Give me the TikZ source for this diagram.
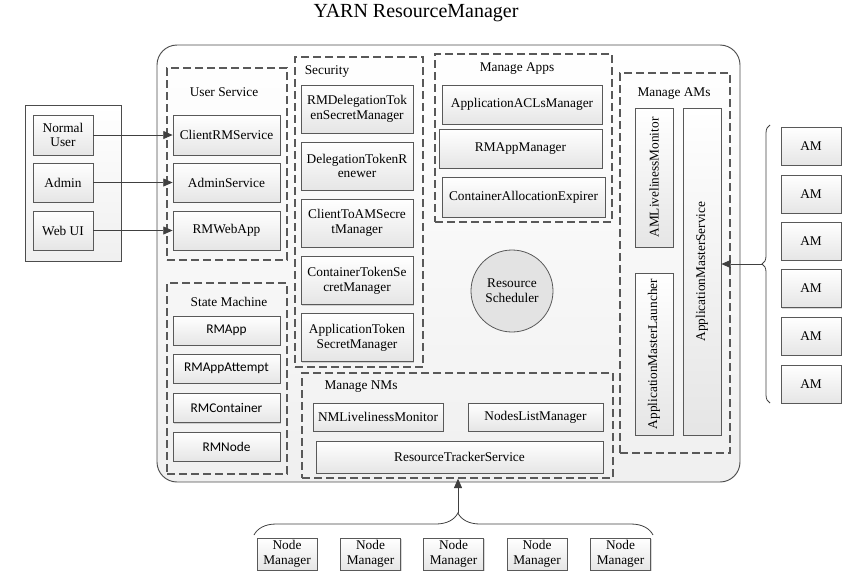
\documentclass[tikz,border=0pt]{standalone}
\usepackage{fontspec}
\setmainfont{Liberation Serif}
\newfontfamily\calibri{Carlito}
\usetikzlibrary{decorations.pathreplacing,arrows.meta,shadows}

\begin{document}
\begin{tikzpicture}[x=0.75pt,y=-0.75pt,
  every node/.style={font=\fontsize{10}{11}\selectfont},
  box/.style={draw=black!65, line width=0.6pt, top color=white, bottom color=gray!20, align=center, inner sep=1pt,
    drop shadow={opacity=0.3, shadow xshift=0.8pt, shadow yshift=-0.8pt}},
  sbox/.style={box, font=\calibri\fontsize{10}{11}\selectfont},
  grp/.style={draw=black!65, line width=1pt, dash pattern=on 6pt off 3pt},
  ptr/.style={draw=black!75, line width=0.6pt, -{Triangle[length=7pt,width=6pt]}}]
\useasboundingbox (0,0) rectangle (853,583);
\node[font=\fontsize{15}{18}\selectfont] (title) at (416,13) {YARN ResourceManager};
\node[draw=black!70, line width=0.7pt, rounded corners=15pt, top color=white, bottom color=gray!12, minimum width=437.25pt, minimum height=327.75pt] (rm) at (448.5,263.5) {};
\node[draw=black!70, line width=0.7pt, top color=white, bottom color=gray!12, minimum width=72pt, minimum height=117pt,
  drop shadow={opacity=0.3, shadow xshift=0.8pt, shadow yshift=-0.8pt}] (clients) at (73,183) {};
\node[box, minimum width=45pt, minimum height=30pt] (nu) at (63,135) {Normal\\User};
\node[box, minimum width=45pt, minimum height=29.25pt] (ad) at (63,182.5) {Admin};
\node[box, minimum width=45pt, minimum height=29.25pt] (wu) at (63,230.5) {Web UI};
\node[grp, minimum width=90pt, minimum height=144pt] (us) at (227,164) {};
\node (uslbl) at (224,92) {User Service};
\node[box, minimum width=80.25pt, minimum height=30pt] (crm) at (226.5,135) {ClientRMService};
\node[box, minimum width=80.25pt, minimum height=29.25pt] (ads) at (226.5,182.5) {AdminService};
\node[box, minimum width=80.25pt, minimum height=29.25pt] (rwa) at (226.5,230.5) {RMWebApp};
\draw[ptr] (nu.east) -- (crm.west);
\draw[ptr] (ad.east) -- (ads.west);
\draw[ptr] (wu.east) -- (rwa.west);
\node[grp, minimum width=96pt, minimum height=232.5pt] (sec) at (359,212) {};
\node (seclbl) at (327,72) {Security};
\node[box, minimum width=84pt, minimum height=36pt] (rmdt) at (357,109) {RMDelegationTok\\enSecretManager};
\node[box, minimum width=84pt, minimum height=36pt] (dtr) at (357,166) {DelegationTokenR\\enewer};
\node[box, minimum width=84pt, minimum height=36pt] (ctam) at (357,223) {ClientToAMSecre\\tManager};
\node[box, minimum width=84pt, minimum height=36pt] (cts) at (357,280.5) {ContainerTokenSe\\cretManager};
\node[box, minimum width=84pt, minimum height=36pt] (ats) at (357,337.5) {ApplicationToken\\SecretManager};
\node[grp, minimum width=132.75pt, minimum height=126pt] (apps) at (523.5,138) {};
\node (appslbl) at (517,69) {Manage Apps};
\node[box, minimum width=120pt, minimum height=29.25pt] (acl) at (522,104.5) {ApplicationACLsManager};
\node[box, minimum width=122.25pt, minimum height=29.25pt] (ramgr) at (520.5,148.5) {RMAppManager};
\node[box, minimum width=122.25pt, minimum height=30pt] (cae) at (523.5,197) {ContainerAllocationExpirer};
\node[circle, draw=black!65, line width=0.6pt, fill=gray!22, minimum size=61.5pt, inner sep=0pt, align=center] (sched) at (512,291) {Resource\\Scheduler};
\node[grp, minimum width=90pt, minimum height=143.25pt] (sm) at (227,378.5) {};
\node (smlbl) at (229,302) {State Machine};
\node[sbox, minimum width=80.25pt, minimum height=21.75pt] (rmapp) at (226.5,330.5) {RMApp};
\node[sbox, minimum width=80.25pt, minimum height=21.75pt] (rmatt) at (226.5,368.5) {RMAppAttempt};
\node[sbox, minimum width=80.25pt, minimum height=21.75pt] (rmcon) at (226.5,408) {RMContainer};
\node[sbox, minimum width=80.25pt, minimum height=21.75pt] (rmnode) at (226.5,446.5) {RMNode};
\node[grp, minimum width=233.25pt, minimum height=78.75pt] (nms) at (457.5,425.5) {};
\node (nmslbl) at (361,387) {Manage NMs};
\node[box, minimum width=97.5pt, minimum height=21pt] (nmlm) at (378,417) {NMLivelinessMonitor};
\node[box, minimum width=101.25pt, minimum height=21pt] (nlm) at (535.5,417) {NodesListManager};
\node[box, minimum width=215.25pt, minimum height=24pt] (rts) at (459.5,457) {ResourceTrackerService};
\node[grp, minimum width=82.5pt, minimum height=285pt] (ams) at (675,263) {};
\node (amslbl) at (674,94) {Manage AMs};
\node[box, rotate=90, minimum width=104.25pt, minimum height=28.5pt] (amlm) at (654,177.5) {AMLivelinessMonitor};
\node[box, rotate=90, minimum width=121.5pt, minimum height=28.5pt] (aml) at (654,354) {ApplicationMasterLauncher};
\node[box, rotate=90, minimum width=245.25pt, minimum height=28.5pt] (amsvc) at (702,271.5) {ApplicationMasterService};
\node[box, minimum width=45pt, minimum height=28.5pt] (am1) at (811,146) {AM};
\node[box, minimum width=45pt, minimum height=28.5pt] (am2) at (811,194) {AM};
\node[box, minimum width=45pt, minimum height=28.5pt] (am3) at (811,241) {AM};
\node[box, minimum width=45pt, minimum height=28.5pt] (am4) at (811,288.5) {AM};
\node[box, minimum width=45pt, minimum height=28.5pt] (am5) at (811,336) {AM};
\node[box, minimum width=45pt, minimum height=28.5pt] (am6) at (811,384) {AM};
\draw[draw=black!75, line width=0.6pt, decorate, decoration={brace, amplitude=6pt}] (770,403) -- (770,125);
\coordinate (amtip) at (762,264);
\draw[ptr] (amtip) -- (amtip -| amsvc.south);
\node[box, minimum width=45pt, minimum height=24pt] (nm1) at (287,554) {Node\\Manager};
\node[box, minimum width=45pt, minimum height=24pt] (nm2) at (370.5,554) {Node\\Manager};
\node[box, minimum width=45pt, minimum height=24pt] (nm3) at (453.5,554) {Node\\Manager};
\node[box, minimum width=45pt, minimum height=24pt] (nm4) at (537,554) {Node\\Manager};
\node[box, minimum width=45pt, minimum height=24pt] (nm5) at (620.5,554) {Node\\Manager};
\draw[draw=black!75, line width=0.6pt, decorate, decoration={brace, amplitude=16.5pt, aspect=0.511}] (254,535) -- (653,535);
\coordinate (nmtip) at (458,513);
\draw[ptr] (nmtip) -- (nmtip |- nms.south);
\end{tikzpicture}
\end{document}
